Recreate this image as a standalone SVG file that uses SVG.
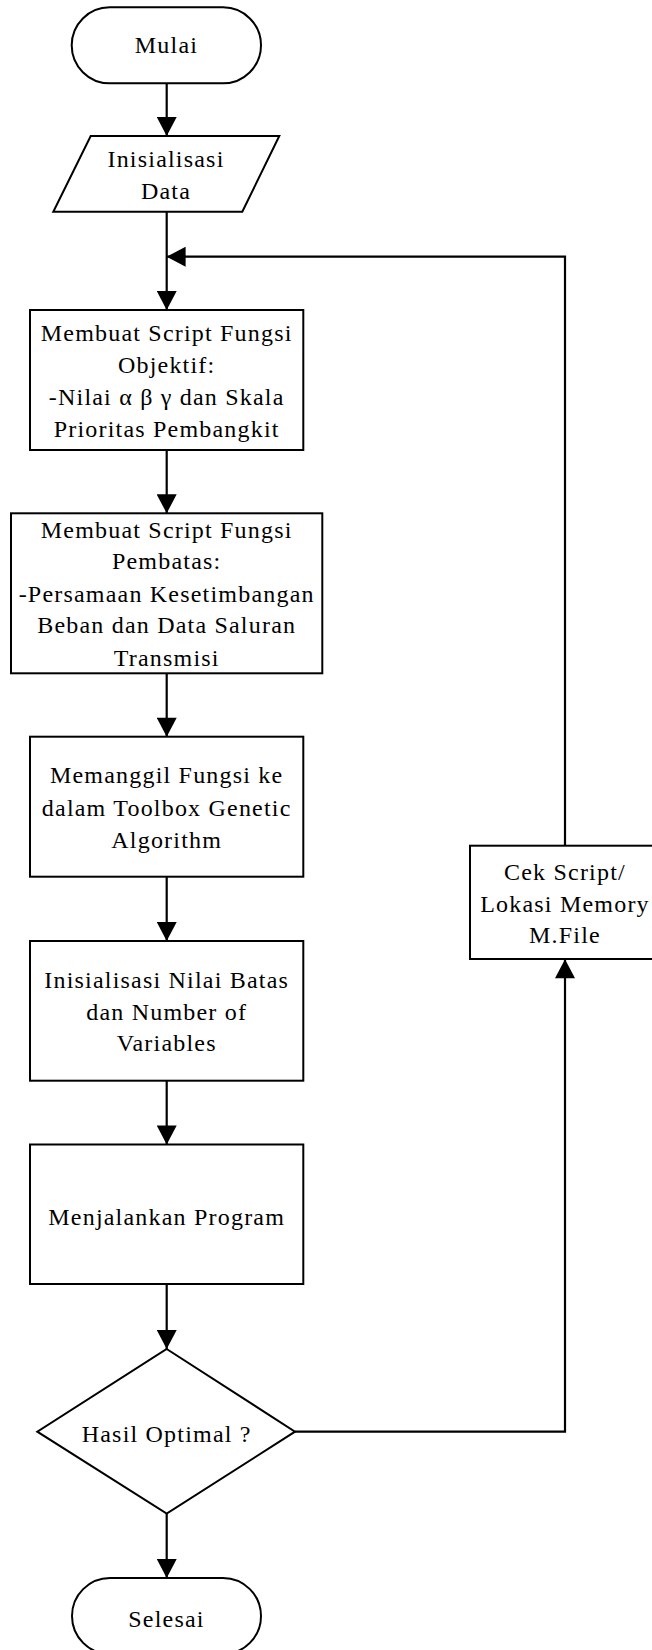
<svg xmlns="http://www.w3.org/2000/svg" width="652" height="1650" viewBox="0 0 652 1650">
<style>
.s{fill:#fff;stroke:#000;stroke-width:2}
.c{fill:none;stroke:#000;stroke-width:2.2}
text{font-family:"Liberation Serif","Times New Roman",serif;font-size:24px;letter-spacing:1.2px;fill:#000;text-anchor:middle}
</style>
<defs>
<marker id="ah" markerUnits="userSpaceOnUse" markerWidth="20" markerHeight="20" viewBox="0 0 18 19" refX="18" refY="9.5" orient="auto">
<path d="M0,0 L18,9.5 L0,19 z" fill="#000"/>
</marker>
</defs>
<rect width="652" height="1650" fill="#fff"/>
<g id="connectors">
<line class="c" x1="166.7" y1="83.3" x2="166.7" y2="136" marker-end="url(#ah)"/>
<line class="c" x1="166.7" y1="211.7" x2="166.7" y2="310" marker-end="url(#ah)"/>
<line class="c" x1="166.7" y1="450" x2="166.7" y2="513.3" marker-end="url(#ah)"/>
<line class="c" x1="166.7" y1="673.3" x2="166.7" y2="736.7" marker-end="url(#ah)"/>
<line class="c" x1="166.7" y1="876.7" x2="166.7" y2="941" marker-end="url(#ah)"/>
<line class="c" x1="166.7" y1="1080.7" x2="166.7" y2="1144.5" marker-end="url(#ah)"/>
<line class="c" x1="166.7" y1="1284" x2="166.7" y2="1349" marker-end="url(#ah)"/>
<line class="c" x1="166.7" y1="1513.5" x2="166.7" y2="1578" marker-end="url(#ah)"/>
<path class="c" d="M295,1431.7 H565 V959.3" marker-end="url(#ah)"/>
<path class="c" d="M565,845.7 V256.7 H166.7" marker-end="url(#ah)"/>
</g>
<g id="mulai">
<rect class="s" x="71.7" y="7.3" width="189.3" height="76" rx="38" ry="38"/>
<text x="166.5" y="53.3">Mulai</text>
</g>
<g id="inisialisasi-data">
<polygon class="s" points="90.7,136 279.3,136 242.3,211.7 53.3,211.7"/>
<text x="166" y="166.7">Inisialisasi</text>
<text x="166" y="199">Data</text>
</g>
<g id="fungsi-objektif">
<rect class="s" x="30" y="310" width="273.3" height="140"/>
<text x="166.7" y="341">Membuat Script Fungsi</text>
<text x="166.7" y="372.7">Objektif:</text>
<text x="166.7" y="405">-Nilai α β γ dan Skala</text>
<text x="166.7" y="436.7">Prioritas Pembangkit</text>
</g>
<g id="fungsi-pembatas">
<rect class="s" x="11" y="513.3" width="311.3" height="160"/>
<text x="166.7" y="537.7">Membuat Script Fungsi</text>
<text x="166.7" y="569">Pembatas:</text>
<text x="166.7" y="601.7">-Persamaan Kesetimbangan</text>
<text x="166.7" y="633">Beban dan Data Saluran</text>
<text x="166.7" y="665.7">Transmisi</text>
</g>
<g id="memanggil-fungsi">
<rect class="s" x="30" y="736.7" width="273.3" height="140"/>
<text x="166.7" y="783.3">Memanggil Fungsi ke</text>
<text x="166.7" y="816">dalam Toolbox Genetic</text>
<text x="166.7" y="847.7">Algorithm</text>
</g>
<g id="inisialisasi-nilai">
<rect class="s" x="30" y="941" width="273.3" height="139.7"/>
<text x="166.7" y="988.3">Inisialisasi Nilai Batas</text>
<text x="166.7" y="1020">dan Number of</text>
<text x="166.7" y="1051">Variables</text>
</g>
<g id="menjalankan">
<rect class="s" x="30" y="1144.5" width="273.3" height="139.5"/>
<text x="166.7" y="1224.5">Menjalankan Program</text>
</g>
<g id="hasil-optimal">
<polygon class="s" points="166.7,1349 295,1431.7 166.7,1513.5 37.3,1431.7"/>
<text x="166.7" y="1441.7">Hasil Optimal ?</text>
</g>
<g id="cek-script">
<rect class="s" x="470" y="845.7" width="190" height="113.3"/>
<text x="565" y="880">Cek Script/</text>
<text x="565" y="911.7">Lokasi Memory</text>
<text x="565" y="943.3">M.File</text>
</g>
<g id="selesai">
<rect class="s" x="72" y="1578" width="189" height="76" rx="38" ry="38"/>
<text x="166.5" y="1626.7">Selesai</text>
</g>
</svg>
